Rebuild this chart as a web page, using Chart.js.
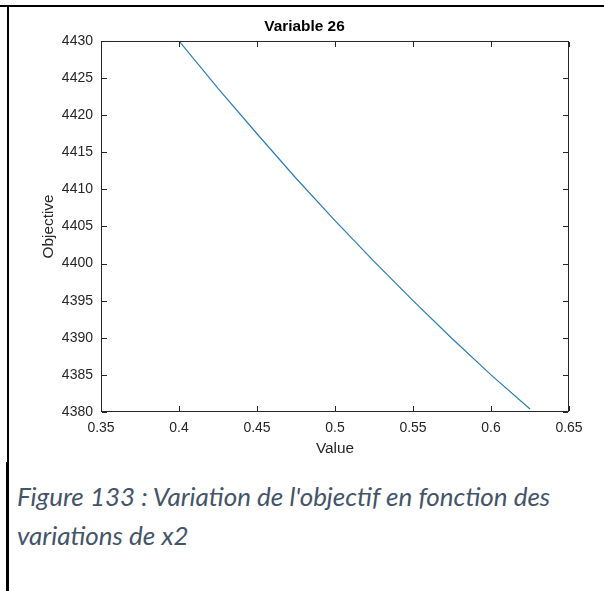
<!DOCTYPE html>
<html>
<head>
<meta charset="utf-8">
<script src="https://cdn.jsdelivr.net/npm/chart.js@4.4.1/dist/chart.umd.min.js"></script>
<style>
    html, body { margin: 0; padding: 0; background: #fff; }
    #page { position: relative; width: 604px; height: 591px; overflow: hidden; }
    #wrap { position: absolute; left: 0; top: 0; width: 604px; height: 480px; }
    .rule-top { position: absolute; left: 0; top: 5px; width: 604px; height: 2px; background: #000; }
    .rule-left { position: absolute; left: 7px; top: 5px; width: 2px; height: 458px; background: #000; }
    .rule-left-thick { position: absolute; left: 6px; top: 462px; width: 3px; height: 129px; background: #000; }
    .caption {
        position: absolute; left: 17px; margin: 0;
        font-family: Lato, "Open Sans", sans-serif; font-style: italic;
        font-size: 26px; line-height: 1.2; color: #44546A; white-space: nowrap;
    }
</style>
</head>
<body>
<div id="page">
    <div class="rule-top"></div>
    <div class="rule-left"></div>
    <div class="rule-left-thick"></div>
    <div id="wrap"><canvas id="sensChart" width="604" height="480"></canvas></div>
    <p class="caption" style="top:481px">Figure 133 : Variation de l'objectif en fonction des</p>
    <p class="caption" style="top:520px">variations de x2</p>
</div>
<script>
// valeurs (Variable 26)
const values = [0.4, 0.425, 0.45, 0.475, 0.5, 0.525, 0.55, 0.575, 0.6, 0.625];
const objective = [4430, 4423.6, 4417.5, 4411.5, 4405.8, 4400.3, 4395.0, 4389.9, 4385.0, 4380.4];
const xTicks = [0.35, 0.4, 0.45, 0.5, 0.55, 0.6, 0.65];
const yTicks = [4380, 4385, 4390, 4395, 4400, 4405, 4410, 4415, 4420, 4425, 4430];

const axisColor = '#262626';
const tickFont = { family: 'Liberation Sans, Arial, sans-serif', size: 14 };
const labelFont = { family: 'Liberation Sans, Arial, sans-serif', size: 15.4 };

// cadre + graduations vers l'intérieur, comme dans MATLAB
const matlabBox = {
    id: 'matlabBox',
    afterDraw(chart) {
        const { ctx, chartArea: a, scales: { x, y } } = chart;
        const len = 5;
        ctx.save();
        ctx.strokeStyle = axisColor;
        ctx.lineWidth = 1;
        ctx.strokeRect(a.left + 0.5, a.top + 0.5, a.width - 1, a.height - 1);
        ctx.beginPath();
        x.ticks.forEach(t => {
            const px = Math.round(x.getPixelForValue(t.value)) + 0.5;
            ctx.moveTo(px, a.bottom - 1); ctx.lineTo(px, a.bottom - 1 - len);
            ctx.moveTo(px, a.top + 1); ctx.lineTo(px, a.top + 1 + len);
        });
        y.ticks.forEach(t => {
            const py = Math.round(y.getPixelForValue(t.value)) + 0.5;
            ctx.moveTo(a.left + 1, py); ctx.lineTo(a.left + 1 + len, py);
            ctx.moveTo(a.right - 1, py); ctx.lineTo(a.right - 1 - len, py);
        });
        ctx.stroke();
        ctx.restore();
    }
};

const fmt = v => String(Number(v.toFixed(2)));

new Chart(document.getElementById('sensChart').getContext('2d'), {
    type: 'line',
    data: {
        datasets: [{
            data: values.map((v, i) => ({ x: v, y: objective[i] })),
            borderColor: '#2a7db8',
            borderWidth: 1.2,
            pointRadius: 0,
            tension: 0,
            fill: false
        }]
    },
    options: {
        responsive: false,
        animation: false,
        layout: { padding: { left: 40, right: 35, top: 0, bottom: 22 } },
        plugins: {
            legend: { display: false },
            tooltip: { enabled: false },
            title: {
                display: true,
                text: 'Variable 26',
                color: '#000',
                font: { family: 'Liberation Sans, Arial, sans-serif', size: 15.4, weight: 'bold' },
                padding: { top: 18, bottom: 4.5 }
            }
        },
        scales: {
            x: {
                type: 'linear',
                min: xTicks[0],
                max: xTicks[xTicks.length - 1],
                afterBuildTicks: s => { s.ticks = xTicks.map(v => ({ value: v })); },
                afterFit: s => { s.height = 46; s.paddingLeft = 0; s.paddingRight = 0; },
                grid: { display: false, drawTicks: false },
                border: { display: false },
                ticks: { color: axisColor, font: tickFont, padding: 8, maxRotation: 0, callback: fmt },
                title: { display: true, text: 'Value', color: axisColor, font: labelFont, padding: 0 }
            },
            y: {
                type: 'linear',
                min: yTicks[0],
                max: yTicks[yTicks.length - 1],
                afterBuildTicks: s => { s.ticks = yTicks.map(v => ({ value: v })); },
                afterFit: s => { s.width = 61; s.paddingTop = 0; s.paddingBottom = 0; },
                grid: { display: false, drawTicks: false },
                border: { display: false },
                ticks: { color: axisColor, font: tickFont, padding: 8, callback: v => String(v) },
                title: { display: true, text: 'Objective', color: axisColor, font: labelFont, padding: 0 }
            }
        }
    },
    plugins: [matlabBox]
});
</script>
</body>
</html>
